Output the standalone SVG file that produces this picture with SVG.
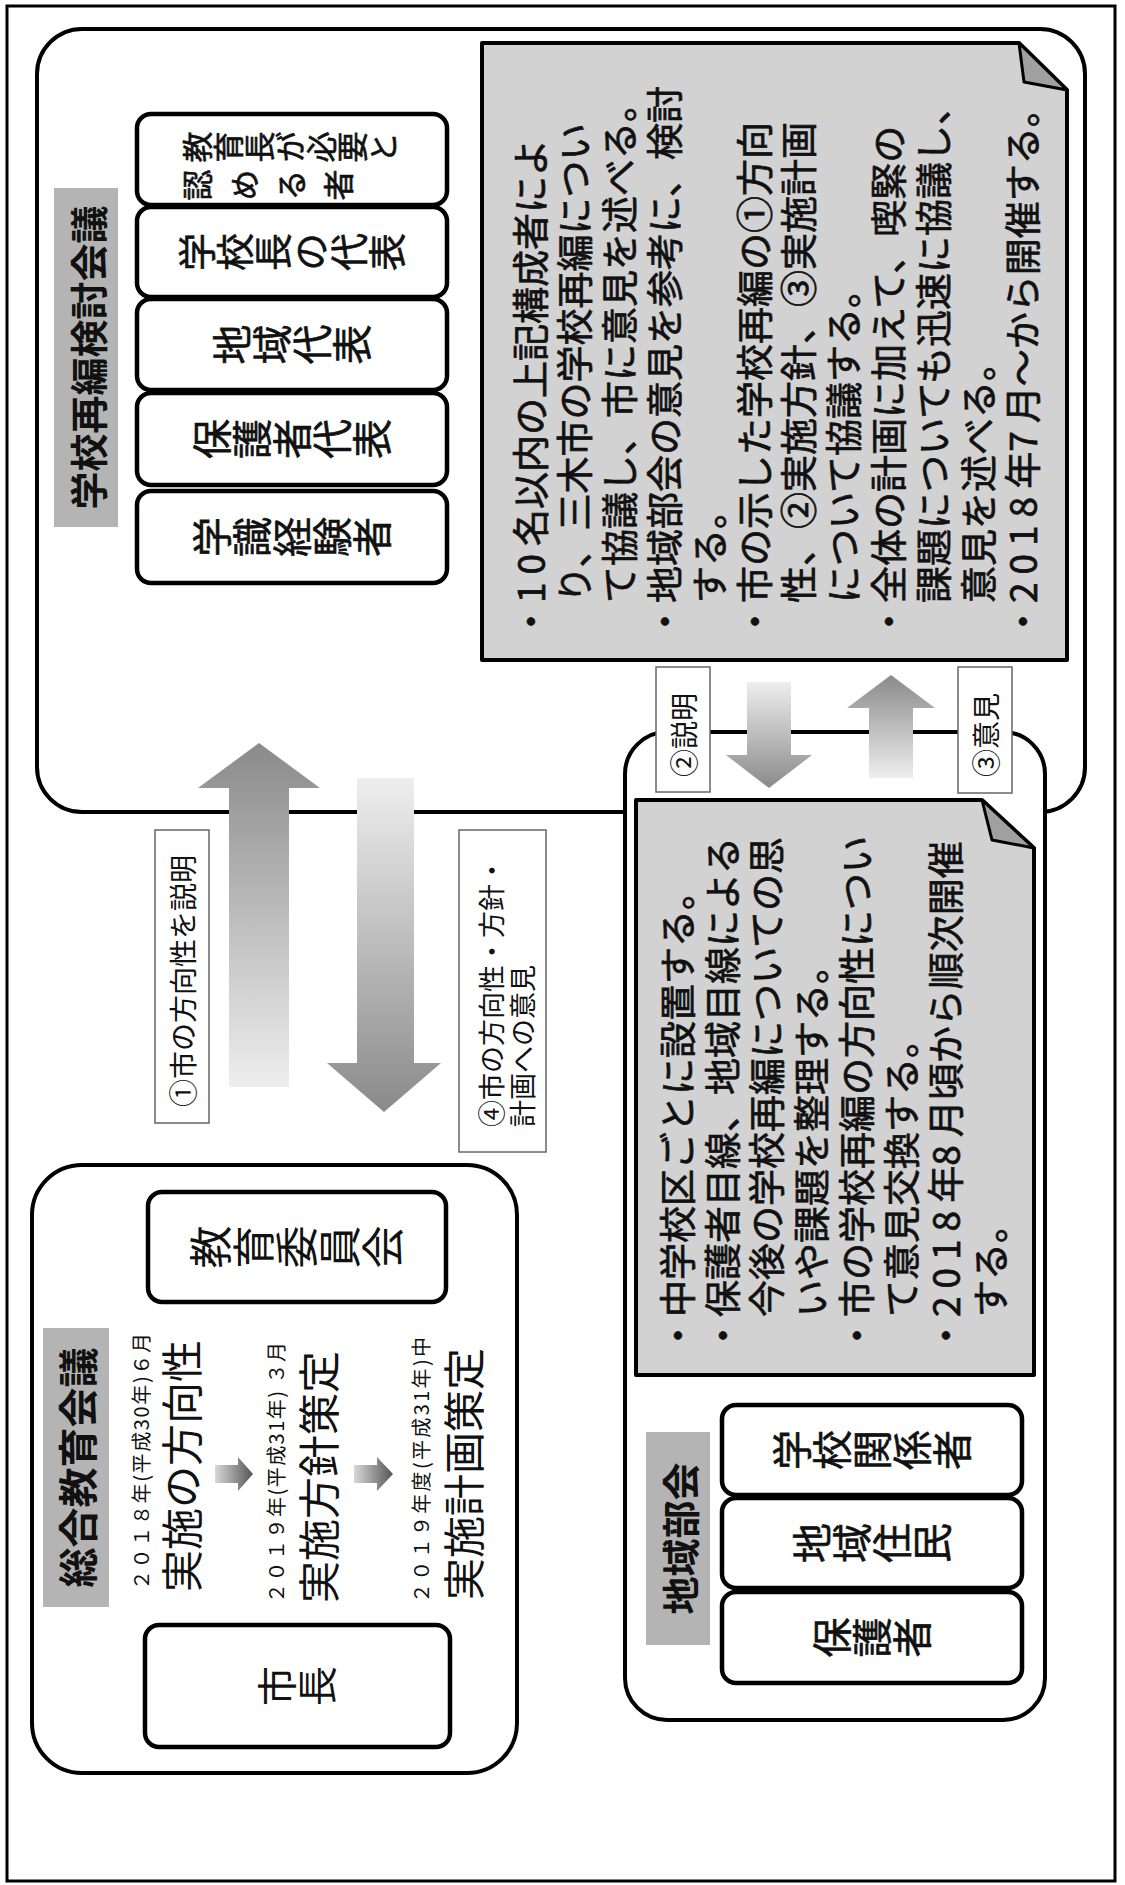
<svg xmlns="http://www.w3.org/2000/svg" width="1125" height="1885" viewBox="0 0 1125 1885">
<defs>
<style>
text{font-family:"Noto Sans CJK JP","Noto Sans CJK SC",sans-serif;fill:#111}
.frame{fill:none;stroke:#000;stroke-width:3}
.group{fill:#fff;stroke:#000;stroke-width:4}
.member{fill:#fff;stroke:#000;stroke-width:4.5}
.note{fill:#d2d2d2;stroke:#000;stroke-width:4;stroke-linejoin:round}
.fold{fill:#a0a0a0;stroke:#000;stroke-width:3;stroke-linejoin:round}
.title{fill:#b4b4b4}
.tt{font-size:38px;font-weight:700}
.lbl{fill:#fff;stroke:#666;stroke-width:1.5}
.lt{font-size:27px}
.nt{font-size:37px;stroke:#111;stroke-width:0.7px}
.dg{letter-spacing:8px}
.mt{font-size:40px;writing-mode:vertical-rl;stroke:#111;stroke-width:0.6px}
.big{font-size:42px}
.date{font-size:20px}
</style>
<linearGradient id="gR" x1="0" y1="0" x2="1" y2="0"><stop offset="0" stop-color="#eeeeee"/><stop offset="1" stop-color="#8a8a8a"/></linearGradient>
<linearGradient id="gL" x1="1" y1="0" x2="0" y2="0"><stop offset="0" stop-color="#eeeeee"/><stop offset="1" stop-color="#8a8a8a"/></linearGradient>
<linearGradient id="gD" x1="0" y1="0" x2="0" y2="1"><stop offset="0" stop-color="#d8d8d8"/><stop offset="1" stop-color="#555555"/></linearGradient>
</defs>
<rect x="0" y="0" width="1125" height="1885" fill="#fff"/>
<g transform="translate(0 1885) rotate(-90)">
<rect class="frame" x="4" y="7" width="1875" height="1108"/>

<g id="kentou">
<rect class="group" x="1073" y="37" width="783" height="1048" rx="45"/>
<rect class="title" x="1358" y="54" width="339" height="64"/>
<text class="tt" x="1527.5" y="86" text-anchor="middle" dominant-baseline="central">学校再編検討会議</text>
<g id="k-m1"><rect class="member" x="1302" y="137" width="92" height="310" rx="14"/><text class="mt" x="1348" y="292" text-anchor="middle">学識経験者</text></g>
<g id="k-m2"><rect class="member" x="1400" y="137" width="92" height="310" rx="14"/><text class="mt" x="1446" y="292" text-anchor="middle">保護者代表</text></g>
<g id="k-m3"><rect class="member" x="1495" y="137" width="91" height="310" rx="14"/><text class="mt" x="1540.5" y="292" text-anchor="middle">地域代表</text></g>
<g id="k-m4"><rect class="member" x="1588" y="137" width="90" height="310" rx="14"/><text class="mt" x="1633" y="292" text-anchor="middle" style="font-size:38px">学校長の代表</text></g>
<g id="k-m5"><rect class="member" x="1680" y="137" width="91" height="310" rx="14"/>
<text class="mt" x="1738" y="182" style="font-size:31px">教育長が必要と</text>
<text class="mt" x="1700" y="182" style="font-size:31px;letter-spacing:16px">認める者</text></g>
<g id="k-note">
<path class="note" d="M1225,482 H1842 V1019 L1795,1067 H1225 Z"/>
<path class="fold" d="M1842,1019 L1803,1024 L1795,1067 Z"/>
<g class="nt" dominant-baseline="central">
<text x="1245" y="528.5">・<tspan class="dg">10</tspan>名以内の上記構成者によ</text>
<text x="1282" y="573.3">り、三木市の学校再編につい</text>
<text x="1282" y="618.1">て協議し、市に意見を述べる。</text>
<text x="1245" y="662.9">・地域部会の意見を参考に、検討</text>
<text x="1282" y="707.7">する。</text>
<text x="1245" y="752.5">・市の示した学校再編の①方向</text>
<text x="1282" y="797.3">性、②実施方針、③実施計画</text>
<text x="1282" y="842.1">について協議する。</text>
<text x="1245" y="886.9">・全体の計画に加えて、喫緊の</text>
<text x="1282" y="931.7">課題についても迅速に協議し、</text>
<text x="1282" y="976.5">意見を述べる。</text>
<text x="1245" y="1021.3">・<tspan class="dg">2018</tspan>年<tspan class="dg">7</tspan>月～から開催する。</text>
</g>
</g>
</g>

<g id="chiiki">
<rect class="group" x="165" y="625" width="988" height="420" rx="42"/>
<rect class="title" x="240" y="646" width="213" height="64"/>
<text class="tt" x="346.5" y="678" text-anchor="middle" dominant-baseline="central">地域部会</text>
<g id="c-m1"><rect class="member" x="202" y="722" width="91" height="300" rx="14"/><text class="mt" x="247.5" y="872" text-anchor="middle">保護者</text></g>
<g id="c-m2"><rect class="member" x="297" y="722" width="90" height="300" rx="14"/><text class="mt" x="342" y="872" text-anchor="middle">地域住民</text></g>
<g id="c-m3"><rect class="member" x="390" y="722" width="90" height="300" rx="14"/><text class="mt" x="435" y="872" text-anchor="middle">学校関係者</text></g>
<g id="c-note">
<path class="note" d="M510,636 H1085 V982 L1037,1034 H510 Z"/>
<path class="fold" d="M1085,982 L1045,992 L1037,1034 Z"/>
<g class="nt" dominant-baseline="central">
<text x="531" y="676">・中学校区ごとに設置する。</text>
<text x="531" y="720.7">・保護者目線、地域目線による</text>
<text x="568" y="765.4">今後の学校再編についての思</text>
<text x="568" y="810.1">いや課題を整理する。</text>
<text x="531" y="854.8">・市の学校再編の方向性につい</text>
<text x="568" y="899.5">て意見交換する。</text>
<text x="531" y="944.2">・<tspan class="dg">2018</tspan>年<tspan class="dg">8</tspan>月頃から順次開催</text>
<text x="568" y="988.9">する。</text>
</g>
</g>
</g>

<g id="sougou">
<rect class="group" x="112" y="32" width="608" height="485" rx="50"/>
<rect class="title" x="278" y="43" width="279" height="66"/>
<text class="tt" x="417.5" y="76" text-anchor="middle" dominant-baseline="central" style="font-size:40px">総合教育会議</text>
<g id="s-m1"><rect class="member" x="583" y="148" width="110" height="298" rx="14"/><text class="mt" x="638" y="297" text-anchor="middle" style="font-size:43px;stroke-width:0">教育委員会</text></g>
<g id="s-m2"><rect class="member" x="138" y="145" width="122" height="305" rx="14"/><text class="mt" x="199" y="297" text-anchor="middle" style="stroke-width:0">市長</text></g>
<g dominant-baseline="central">
<text class="date" x="295" y="140" textLength="257" lengthAdjust="spacing">２０１８年(平成30年)６月</text>
<text class="big" x="293" y="179">実施の方向性</text>
<text class="date" x="282" y="275" textLength="261" lengthAdjust="spacing">２０１９年(平成31年) ３月</text>
<text class="big" x="282" y="316">実施方針策定</text>
<text class="date" x="282" y="420" textLength="266" lengthAdjust="spacing">２０１９年度(平成31年)中</text>
<text class="big" x="285" y="461">実施計画策定</text>
</g>
<polygon fill="url(#gD)" points="402,215 420,215 420,238 428,238 411,253 394,238 402,238"/>
<polygon fill="url(#gD)" points="402,354 420,354 420,377 428,377 411,393 394,377 402,377"/>
</g>

<g id="connectors">
<polygon fill="url(#gR)" points="798,229 1097,229 1097,198 1142,259 1097,320 1097,289 798,289"/>
<polygon fill="url(#gL)" points="1107,357 822,357 822,327 773,384 822,441 822,414 1107,414"/>
<polygon fill="url(#gL)" points="1203,747 1130,747 1130,726 1097,769 1130,812 1130,791 1203,791"/>
<polygon fill="url(#gR)" points="1107,869 1177,869 1177,847 1210,891 1177,935 1177,913 1107,913"/>
<g id="lbl1"><rect class="lbl" x="762" y="155" width="293" height="54"/><text class="lt" x="778" y="182" dominant-baseline="central" style="font-size:28px">①市の方向性を説明</text></g>
<g id="lbl4"><rect class="lbl" x="733" y="459" width="322" height="87"/>
<text class="lt" x="758" y="490" dominant-baseline="central">④市の方向性・方針・</text>
<text class="lt" x="758" y="521" dominant-baseline="central">計画への意見</text></g>
<g id="lbl2"><rect class="lbl" x="1093" y="656" width="125" height="54"/><text class="lt" x="1150" y="683" text-anchor="middle" dominant-baseline="central" style="font-size:28px">②説明</text></g>
<g id="lbl3"><rect class="lbl" x="1092" y="958" width="126" height="54"/><text class="lt" x="1150" y="985" text-anchor="middle" dominant-baseline="central" style="font-size:28px">③意見</text></g>
</g>
</g>
</svg>
